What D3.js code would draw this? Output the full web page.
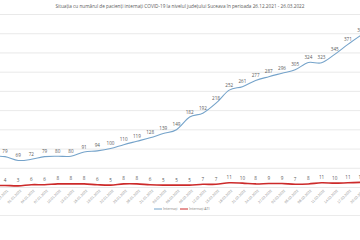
<!DOCTYPE html>
<html>
<head>
<meta charset="utf-8">
<script src="https://cdn.jsdelivr.net/npm/d3@7"></script>
<style>
  body { margin: 0; background: #fff; }
  svg { display: block; font-family: "Open Sans", "Liberation Sans", sans-serif; }
</style>
</head>
<body>
<svg></svg>
<script>
// dates of the points (first one falls outside the cropped view)
let dates = ["26.12.2021", "29.12.2021", "01.01.2022", "04.01.2022", "07.01.2022", "10.01.2022",
    "13.01.2022", "16.01.2022", "19.01.2022", "22.01.2022", "25.01.2022", "28.01.2022",
    "31.01.2022", "03.02.2022", "06.02.2022", "09.02.2022", "12.02.2022", "15.02.2022",
    "18.02.2022", "21.02.2022", "24.02.2022", "27.02.2022", "02.03.2022", "05.03.2022",
    "08.03.2022", "11.03.2022", "14.03.2022", "17.03.2022", "20.03.2022"];

let internati = [80, 79, 69, 72, 79, 80, 80, 91, 94, 100, 110, 119, 128, 139, 149, 182, 192,
    218, 252, 261, 277, 287, 296, 305, 324, 323, 345, 371, 395];

let internatiATI = [4, 4, 3, 6, 6, 8, 8, 8, 6, 5, 8, 8, 6, 5, 5, 5, 7, 7, 11, 10, 8, 9, 9,
    7, 8, 11, 10, 11, 12];

let yTicks = [0, 50, 100, 150, 200, 250, 300, 350, 400, 450];

let title = "Situația cu numărul de pacienți internați COVID-19 la nivelul județului Suceava în perioada 26.12.2021 - 26.03.2022";

let width = 360;
let height = 240;

let svg = d3.select("svg")
    .attr("width", width)
    .attr("height", height);

let xScale = d3.scalePoint()
    .domain(dates)
    .range([-8.2, 361.1]);

let yScale = d3.scaleLinear()
    .domain([0, 450])
    .range([187, 14]);

// title
svg.append("text")
    .attr("x", 180)
    .attr("y", 8)
    .attr("text-anchor", "middle")
    .attr("font-size", "4.7px")
    .attr("fill", "#595959")
    .text(title);

// gridlines
let grid = svg.append("g")
    .call(d3.axisLeft(yScale).tickValues(yTicks).tickSize(-width).tickFormat(""));
grid.select(".domain").remove();
grid.selectAll("line").attr("stroke", "#e3e3e3").attr("stroke-width", 0.8);

// x axis labels, rotated (the first date sits outside the view)
let xAxis = svg.append("g")
    .attr("transform", "translate(0, 188)")
    .call(d3.axisBottom(xScale).tickValues(dates.slice(1)).tickSize(0).tickPadding(0));
xAxis.select(".domain").remove();
xAxis.selectAll("text")
    .attr("font-size", "3.6px")
    .attr("fill", "#8c8c8c")
    .attr("text-anchor", "end")
    .attr("dy", 0)
    .attr("transform", "translate(3, 3) rotate(-45)");

let line = d3.line()
    .x((d, i) => xScale(dates[i]))
    .y((d) => yScale(d))
    .curve(d3.curveCardinal);

let drawSeries = (values, color, w) => {
    svg.append("path")
        .datum(values)
        .attr("fill", "none")
        .attr("stroke", color)
        .attr("stroke-width", w)
        .attr("d", line);

    svg.append("g")
        .selectAll("text")
        .data(values.slice(1))
        .enter()
        .append("text")
        .attr("x", (d, i) => xScale(dates[i + 1]))
        .attr("y", (d) => yScale(d) - 3.5)
        .attr("text-anchor", "middle")
        .attr("font-size", "4.6px")
        .attr("fill", "#595959")
        .text((d) => d);
};

drawSeries(internati, "#75a3ca", 1.1);
drawSeries(internatiATI, "#cc2a2a", 1.6);

// legend
let legend = [["Internați", "#75a3ca", 154], ["Internați ATI", "#cc2a2a", 180]];
legend.forEach((l) => {
    svg.append("line")
        .attr("x1", l[2]).attr("x2", l[2] + 8)
        .attr("y1", 209).attr("y2", 209)
        .attr("stroke", l[1]).attr("stroke-width", 1);
    svg.append("text")
        .attr("x", l[2] + 9)
        .attr("y", 210.3)
        .attr("font-size", "3.6px")
        .attr("fill", "#7f7f7f")
        .text(l[0]);
});

// chart border bottom
svg.append("line")
    .attr("x1", 0).attr("x2", width)
    .attr("y1", 215.5).attr("y2", 215.5)
    .attr("stroke", "#e6e6e6").attr("stroke-width", 0.8);
</script>
</body>
</html>
